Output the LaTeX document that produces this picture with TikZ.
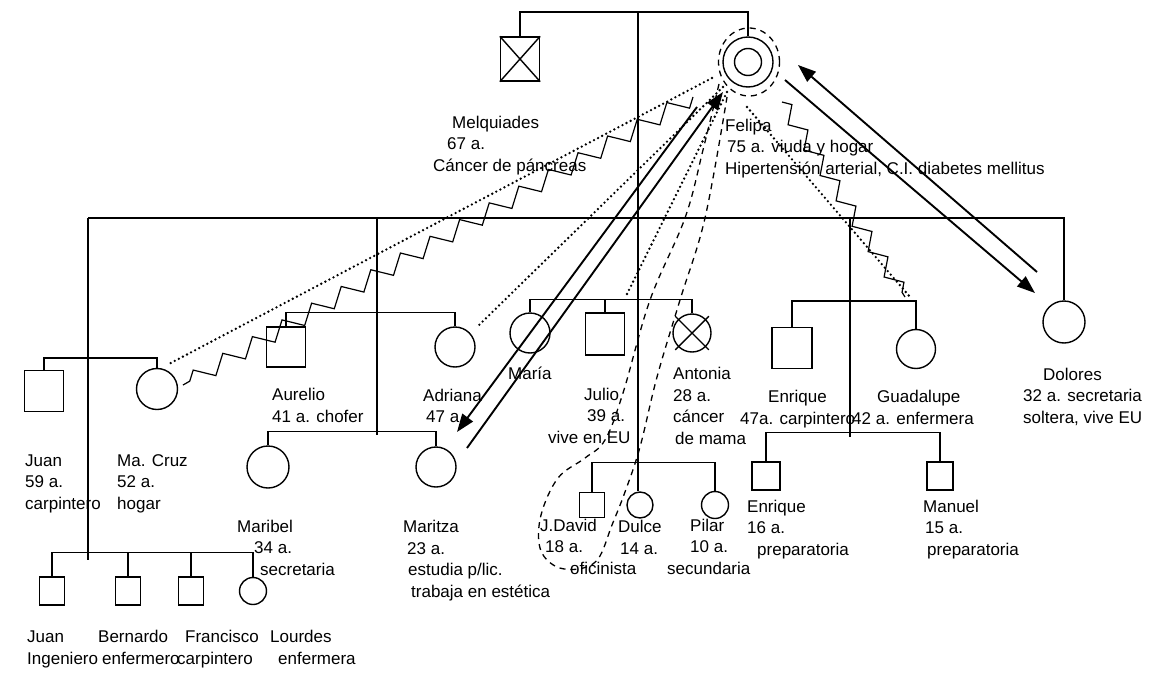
\documentclass[tikz,border=0pt]{standalone}
\usepackage{fontspec}
\setmainfont{Liberation Sans}
\usetikzlibrary{arrows.meta,decorations.pathmorphing}
\begin{document}
\begin{tikzpicture}[x=1pt,y=-1pt,
  male/.style={draw, line width=1.4pt, rectangle, minimum width=39pt, minimum height=41pt, inner sep=0pt},
  female/.style={draw, line width=1.4pt, circle, minimum size=40pt, inner sep=0pt},
  smale/.style={draw, line width=1.4pt, rectangle, minimum width=25pt, minimum height=27pt, inner sep=0pt},
  sfemale/.style={draw, line width=1.4pt, circle, minimum size=26pt, inner sep=0pt},
  lbl/.style={font=\fontsize{17}{21.5}\selectfont, inner sep=0pt, anchor=base west, align=left},
  kin/.style={line width=1.4pt},
  dotrel/.style={line width=2.6pt, dash pattern=on 0pt off 4.6pt, line cap=round},
  dashrel/.style={line width=1.3pt, dash pattern=on 6pt off 5pt},
  zig/.style={line width=1.2pt, decorate, decoration={zigzag, segment length=34pt, amplitude=8pt}},
  arr/.style={line width=1.9pt, -{Triangle[length=18pt,width=13pt]}},
]
\useasboundingbox (0,0) rectangle (1149,688);

% ---------- persons ----------
\node[male, minimum height=44pt] (melq) at (520,59) {};
\draw[kin] (melq.north west) -- (melq.south east) (melq.north east) -- (melq.south west);
\node[draw, line width=1.4pt, circle, minimum size=50pt, inner sep=0pt] (felipa) at (748,62) {};
\node[draw, line width=1.4pt, circle, minimum size=27pt, inner sep=0pt] (felipain) at (748,62) {};

\node[male] (juan) at (44,391) {};
\node[female, minimum size=41pt] (macruz) at (157,389) {};
\node[male, minimum height=40pt] (aurelio) at (286,347) {};
\node[female] (adriana) at (455,347) {};
\node[female] (maria) at (530,333) {};
\node[male, minimum height=42pt] (julio) at (605,334) {};
\node[female, minimum size=38pt] (antonia) at (692,333) {};
\draw[kin, shorten <=-4pt, shorten >=-4pt] (antonia.north west) -- (antonia.south east);
\draw[kin, shorten <=-4pt, shorten >=-4pt] (antonia.north east) -- (antonia.south west);
\node[male, minimum width=40pt] (enrique) at (792,348) {};
\node[female, minimum size=39pt] (guadalupe) at (916,349) {};
\node[female, minimum size=42pt] (dolores) at (1064,322) {};

\node[female, minimum size=42pt] (maribel) at (268,467) {};
\node[female] (maritza) at (436,467) {};

\node[smale, minimum height=25pt] (jdavid) at (592,505) {};
\node[sfemale] (dulce) at (640,505) {};
\node[sfemale, minimum size=27pt] (pilar) at (715,505) {};

\node[smale, minimum width=28pt, minimum height=28pt] (enriquejr) at (766,476) {};
\node[smale, minimum width=26pt, minimum height=28pt] (manuel) at (940,476) {};

\node[smale, minimum height=28pt] (juanjr) at (52,591) {};
\node[smale, minimum height=28pt] (bernardo) at (128,591) {};
\node[smale, minimum height=28pt] (francisco) at (191,591) {};
\node[sfemale, minimum size=27pt] (lourdes) at (253,591) {};

% ---------- kinship lines ----------
\coordinate (top) at (638,12);
\draw[kin] (melq.north) |- (top) -| (felipa.north);
\draw[kin] (top) -- (top |- dulce.north);

\coordinate (mL) at (88,218);
\coordinate (mR) at (1064,218);
\draw[kin] (mL) -- (mR) -- (dolores.north);
\coordinate (jB) at (88,560);
\draw[kin] (mL) -- (jB);
\draw[kin] (juan.north) -- ++(0,-12) -| (macruz.north);
\draw[kin] (juanjr.north) -- ++(0,-24) -| (lourdes.north);
\draw[kin] (bernardo.north) -- ++(0,-24);
\draw[kin] (francisco.north) -- ++(0,-24);

\coordinate (aaT) at (377,218);
\coordinate (aaB) at (377,435);
\draw[kin] (aaT) -- (aaB);
\draw[kin] (aurelio.north) -- ++(0,-14) -| (adriana.north);
\draw[kin] (maribel.north) -- ++(0,-14) -| (maritza.north);

\draw[kin] (maria.north) -- ++(0,-13) -| (antonia.north);
\draw[kin] (julio.north) -- ++(0,-13);
\draw[kin] (jdavid.north) -- ++(0,-29.5) -| (pilar.north);

\coordinate (egT) at (850,218);
\coordinate (egB) at (850,437);
\draw[kin] (egT) -- (egB);
\draw[kin] (enrique.north) -- ++(0,-26) -| (guadalupe.north);
\draw[kin] (enriquejr.north) -- ++(0,-29) -| (manuel.north);

% ---------- relationship lines ----------
\draw[dashrel] (749,62) ellipse [x radius=30.5pt, y radius=34pt];
\draw[dashrel] plot[smooth, tension=0.6] coordinates {(719,84) (703,150) (685,218) (650,300) (623,393) (605,440) (585,458) (558,478) (541,515) (540,548) (555,566) (578,569) (598,559) (612,525) (625,492) (640,447) (657,377) (680,300) (705,218) (727,97)};

\coordinate (fdC) at (712,78);  \coordinate (mdC) at (167,365);
\coordinate (fzC) at (693,97);  \coordinate (mzC) at (183,385);
\coordinate (fdA) at (723,87);  \coordinate (adA) at (477,327);
\coordinate (fdJ) at (727,92);  \coordinate (jdJ) at (625,298);
\coordinate (fdG) at (747,107); \coordinate (gdG) at (910,297);
\coordinate (fzG) at (782,102); \coordinate (gzG) at (905,297);
\draw[dotrel] (fdC) -- (mdC);
\draw[zig] (fzC) -- (mzC);
\draw[dotrel] (fdA) -- (adA);
\draw[dotrel] (fdJ) -- (jdJ);
\draw[dotrel] (fdG) -- (gdG);
\draw[zig, decoration={segment length=30pt, amplitude=7pt}] (fzG) -- (gzG);

\coordinate (mzA) at (467,448); \coordinate (fzA) at (723,92);
\coordinate (fzB) at (697,107); \coordinate (mzB) at (457,432);
\coordinate (fdD1) at (785,80); \coordinate (ddD1) at (1035,293);
\coordinate (ddD2) at (1037,272); \coordinate (fdD2) at (798,65);
\draw[arr] (mzA) -- (fzA);
\draw[arr] (fzB) -- (mzB);
\draw[arr] (fdD1) -- (ddD1);
\draw[arr] (ddD2) -- (fdD2);

% ---------- labels (anchor = baseline of the last line) ----------
\node[lbl] (tmelq) at (433,171) {\hspace*{19pt}Melquiades\\\hspace*{14pt}67 a.\\Cáncer de páncreas};
\node[lbl] (tfelipa) at (725,174) {Felipa\\\hspace*{2pt}75 a. viuda y hogar\\Hipertensión arterial, C.I. diabetes mellitus};
\node[lbl] (tjuan) at (25,509) {Juan\\59 a.\\carpintero};
\node[lbl] (tmacruz) at (117,509) {Ma. Cruz\\52 a.\\hogar};
\node[lbl] (taurelio) at (272,422) {Aurelio\\41 a. chofer};
\node[lbl] (tadriana) at (423,422.5) {Adriana\\\hspace*{3pt}47 a.};
\node[lbl] (tmaria) at (508,379) {María};
\node[lbl] (tjulio) at (548,443) {\hspace*{36pt}Julio\\\hspace*{39pt}39 a.\\vive en EU};
\node[lbl] (tantonia) at (673,444) {Antonia\\28 a.\\cáncer\\\hspace*{2pt}de mama};
\node[lbl] (tenrique) at (740,424) {\hspace*{28pt}Enrique\\47a. carpintero};
\node[lbl] (tguad) at (852,424) {\hspace*{25pt}Guadalupe\\42 a. enfermera};
\node[lbl] (tdolores) at (1023,423) {\hspace*{20pt}Dolores\\32 a. secretaria\\soltera, vive EU};
\node[lbl] (tmaribel) at (237,575) {Maribel\\\hspace*{17pt}34 a.\\\hspace*{23pt}secretaria};
\node[lbl] (tmaritza) at (403,597) {Maritza\\\hspace*{4pt}23 a.\\\hspace*{5pt}estudia p/lic.\\\hspace*{8pt}trabaja en estética};
\node[lbl] (tjdavid) at (540,574) {J.David\\\hspace*{5pt}18 a.\\\hspace*{30pt}oficinista};
\node[lbl] (tdulce) at (618,554) {Dulce\\\hspace*{2pt}14 a.};
\node[lbl] (tpilar) at (667,574) {\hspace*{23pt}Pilar\\\hspace*{23pt}10 a.\\secundaria};
\node[lbl] (tenriquejr) at (747,555) {Enrique\\16 a.\\\hspace*{10pt}preparatoria};
\node[lbl] (tmanuel) at (923,555) {Manuel\\\hspace*{2pt}15 a.\\\hspace*{4pt}preparatoria};
\node[lbl] (tjuanjr) at (27,664) {Juan\\Ingeniero};
\node[lbl] (tbernardo) at (98,664) {Bernardo\\\hspace*{4pt}enfermero};
\node[lbl] (tfrancisco) at (177,664) {\hspace*{8pt}Francisco\\carpintero};
\node[lbl] (tlourdes) at (270,664) {Lourdes\\\hspace*{8pt}enfermera};
\end{tikzpicture}
\end{document}
